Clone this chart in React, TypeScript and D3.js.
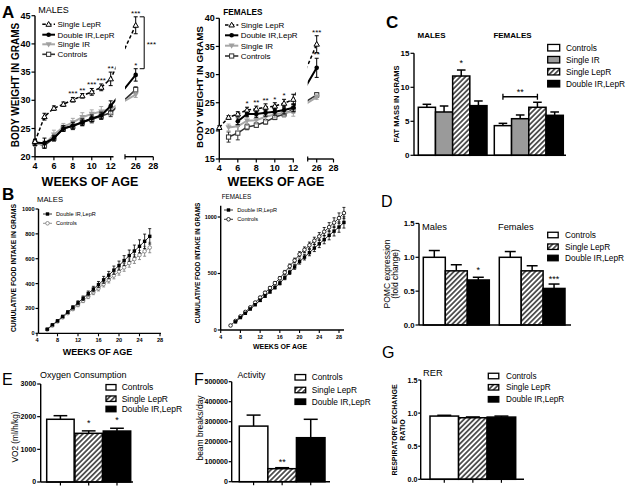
import React from "react";
import * as d3 from "d3";

const FONT = "'Liberation Sans', Arial, Helvetica, sans-serif";

// ---------- A: body weight ----------
const weeksMale = [4, 5, 6, 7, 8, 9, 10, 11, 12, 26];
const maleLepR = [22.7, 27.1, 28.6, 29.3, 30.1, 30.8, 31.5, 32.3, 33.8, 43.3];
const maleLepRErr = [0.4, 0.6, 0.4, 0.4, 0.4, 0.4, 0.6, 0.6, 1.2, 1.5];
const maleDouble = [22.5, 22.4, 23.3, 25.0, 25.5, 26.1, 26.8, 27.3, 29.0, 34.5];
const maleDoubleErr = [0.5, 0.9, 0.5, 0.5, 0.6, 0.6, 0.6, 0.6, 0.9, 1.1];
const maleIR = [22.3, 22.2, 23.9, 25.3, 26.1, 27.0, 27.6, 28.0, 28.5, 31.0];
const maleIRErr = [0.4, 0.6, 0.8, 0.6, 0.7, 0.8, 0.7, 0.9, 0.9, 0.5];
const maleCtrl = [22.4, 22.0, 23.3, 25.0, 25.4, 26.1, 26.6, 27.2, 27.8, 31.9];
const maleCtrlErr = [0.5, 0.5, 0.5, 0.5, 0.6, 0.6, 0.6, 0.6, 0.7, 0.5];
const maleStarWeeks = [8, 9, 10, 11, 12, 26];
const maleStarText = ["***", "**", "***", "***", "**", "***"];
const maleDoubleStarWeeks = [26];
const maleDoubleStarText = ["*"];

const femWeeksLepR = [4, 5, 6, 7, 8, 9, 10, 11, 12, 26];
const femLepR = [20.6, 22.4, 23.0, 23.7, 23.9, 24.2, 24.4, 24.9, 25.6, 35.4];
const femLepRErr = [0.3, 0.3, 0.4, 0.5, 0.5, 0.6, 0.6, 0.7, 0.9, 1.5];
const femWeeksDouble = [6, 7, 8, 9, 10, 11, 12, 26];
const femDouble = [21.7, 23.0, 23.0, 23.2, 23.4, 23.7, 24.1, 31.2];
const femDoubleErr = [0.6, 0.5, 0.6, 0.6, 0.6, 0.7, 0.7, 1.7];
const femWeeksOther = [5, 6, 7, 8, 9, 10, 11, 12, 26];
const femIR = [20.6, 20.8, 21.8, 21.9, 22.5, 22.9, 23.2, 23.4, 26.0];
const femIRErr = [0.6, 0.8, 0.8, 0.7, 0.7, 0.6, 0.7, 0.8, 0.4];
const femCtrl = [18.9, 19.6, 20.7, 21.0, 21.6, 22.4, 23.0, 23.8, 26.4];
const femCtrlErr = [0.9, 1.2, 0.5, 0.4, 0.4, 0.4, 0.5, 0.6, 0.4];
const femStarWeeks = [7, 8, 9, 10, 11, 26];
const femStarText = ["*", "**", "**", "*", "*", "***"];
const femDoubleStarWeeks = [26];
const femDoubleStarText = ["**"];

const weightYTicksMale = [20, 25, 30, 35, 40, 45];
const weightYTicksFem = [15, 20, 25, 30, 35, 40];
const weightXTicks1 = [4, 6, 8, 10, 12];
const weightXTicks2 = [26, 28];
const weightLegend = ["Single LepR", "Double IR,LepR", "Single IR", "Controls"];

// ---------- B: cumulative food intake ----------
const foodMaleWeeks = [6, 7, 8, 9, 10, 11, 12, 13, 14, 15, 16, 17, 18, 19, 20, 21, 22, 23, 24, 25, 26];
const foodMaleDouble = [33, 68, 100, 135, 170, 208, 245, 282, 320, 356, 392, 430, 468, 508, 545, 585, 625, 662, 700, 740, 780];
const foodMaleDoubleErr = [5, 6, 8, 10, 12, 14, 16, 18, 20, 22, 25, 28, 30, 33, 36, 40, 45, 48, 52, 58, 62];
const foodMaleCtrl = [30, 62, 95, 128, 162, 195, 228, 262, 296, 330, 362, 396, 430, 465, 497, 530, 565, 597, 630, 660, 690];
const foodMaleCtrlErr = [4, 5, 7, 9, 10, 12, 14, 15, 17, 19, 21, 23, 25, 27, 29, 31, 33, 35, 37, 40, 42];
const foodFemCtrlWeeks = [6, 7, 8, 9, 10, 11, 12, 13, 14, 15, 16, 17, 18, 19, 20, 21, 22, 23, 24, 25, 26, 27, 28, 29];
const foodFemCtrl = [40, 80, 120, 160, 200, 243, 287, 330, 372, 415, 458, 510, 565, 615, 670, 710, 750, 790, 828, 870, 910, 950, 990, 1035];
const foodFemCtrlErr = [5, 6, 7, 8, 9, 10, 11, 12, 13, 14, 15, 17, 19, 21, 23, 25, 28, 31, 34, 37, 40, 43, 46, 50];
const foodFemDoubleWeeks = [7, 8, 9, 10, 11, 12, 13, 14, 15, 16, 17, 18, 19, 20, 21, 22, 23, 24, 25, 26, 27, 28, 29];
const foodFemDouble = [72, 110, 148, 186, 224, 262, 300, 338, 376, 414, 462, 510, 558, 606, 645, 685, 725, 763, 800, 838, 875, 911, 952];
const foodFemDoubleErr = [5, 6, 7, 8, 9, 10, 11, 12, 13, 15, 17, 19, 21, 23, 25, 28, 31, 34, 37, 40, 43, 46, 50];
const foodXTicks = [4, 8, 12, 16, 20, 24, 28];
const foodYTicksMale = [0, 200, 400, 600, 800, 1000];
const foodYTicksFem = [0, 500, 1000];
const foodLegend = ["Double IR,LepR", "Controls"];

// ---------- C: fat mass ----------
const fatGroups = ["Controls", "Single IR", "Single LepR", "Double IR,LepR"];
const fatFills = ["white", "gray", "hatch", "black"];
const fatMales = [7.06, 6.37, 11.66, 7.3];
const fatMalesErr = [0.44, 0.88, 0.88, 0.69];
const fatFemales = [4.36, 5.38, 7.06, 5.88];
const fatFemalesErr = [0.34, 0.55, 0.74, 0.49];
const fatYTicks = [0, 5, 10, 15];

// ---------- D: POMC ----------
const pomcGroups = ["Controls", "Single LepR", "Double IR,LepR"];
const threeFills = ["white", "hatch", "black"];
const pomcMales = [1.0, 0.8, 0.665];
const pomcMalesErr = [0.1, 0.09, 0.04];
const pomcFemales = [1.0, 0.8, 0.54];
const pomcFemalesErr = [0.085, 0.075, 0.065];
const pomcYTicks = [0, 0.5, 1.0, 1.5];

// ---------- E: VO2 ----------
const vo2 = [1920, 1490, 1560];
const vo2Err = [110, 75, 85];
const vo2YTicks = [0, 1000, 2000, 3000];
// ---------- F: activity ----------
const activity = [278000, 65000, 220000];
const activityErr = [55000, 5000, 92000];
const activityYTicks = [0, 100000, 200000, 300000, 400000, 500000];
// ---------- G: RER ----------
const rer = [0.955, 0.93, 0.94];
const rerErr = [0.012, 0.012, 0.015];
const rerYTicks = [0, 0.5, 1.0, 1.5];

const FILL: Record<string, string> = { white: "#fff", gray: "#9a9a9a", hatch: "url(#hatch)", black: "#000" };

const KSTYLE: Record<string, any> = {
  lepr: { stroke: "#000", width: 1.5, dash: "3.5,2.2" },
  double: { stroke: "#000", width: 2 },
  ir: { stroke: "#a8a8a8", width: 2 },
  ctrl: { stroke: "#333", width: 1.6 },
};

function Marker({ kind, x, y }: any) {
  const sym = d3.symbol();
  if (kind === "lepr")
    return <path d={sym.type(d3.symbolTriangle).size(13)() as string} transform={`translate(${x},${y + 0.4})`} fill="#fff" stroke="#000" strokeWidth={1} />;
  if (kind === "double") return <circle cx={x} cy={y} r={2.3} fill="#000" />;
  if (kind === "ir")
    return <path d={sym.type(d3.symbolTriangle).size(16)() as string} transform={`translate(${x},${y - 0.4}) rotate(180)`} fill="#a0a0a0" />;
  return <rect x={x - 2.1} y={y - 2.1} width={4.2} height={4.2} fill="#fff" stroke="#333" strokeWidth={1} />;
}

function YAxis({ x, y, ticks, fmt, fs, tick = 3.5, gap = 1, top, bottom }: any) {
  const t0 = top !== undefined ? top : y(d3.max(ticks) as number);
  const b0 = bottom !== undefined ? bottom : y(d3.min(ticks) as number);
  return (
    <g>
      <line x1={x} x2={x} y1={t0} y2={b0} stroke="#000" strokeWidth={1.4} />
      {ticks.map((t: number) => (
        <g key={t}>
          <line x1={x - tick} x2={x} y1={y(t)} y2={y(t)} stroke="#000" strokeWidth={1.2} />
          <text x={x - tick - gap} y={y(t)} dy="0.35em" textAnchor="end" fontSize={fs} fontWeight="bold">
            {fmt ? fmt(t) : t}
          </text>
        </g>
      ))}
    </g>
  );
}

function WeightPanel({ id, series, x1, x2, y, seg1End, seg2Start, seg2End, yTicks, starsLepR, starsDouble, fsTick }: any) {
  const xm = (w: number) => (w <= 13 ? x1(w) : x2(w));
  const y0 = y.range()[0];
  const ax = x1.range()[0];
  const line = d3.line();
  return (
    <g>
      <clipPath id={id}>
        <rect x={0} y={0} width={seg1End + 2} height={200} />
        <rect x={seg2Start} y={0} width={seg2End - seg2Start + 10} height={200} />
      </clipPath>
      <YAxis x={ax} y={y} ticks={yTicks} fs={fsTick} />
      <line x1={ax} x2={seg1End} y1={y0} y2={y0} stroke="#000" strokeWidth={1.4} />
      {weightXTicks1.map((t) => (
        <g key={t}>
          <line x1={x1(t)} x2={x1(t)} y1={y0} y2={y0 + 3.5} stroke="#000" strokeWidth={1.2} />
          <text x={x1(t)} y={y0 + 12} textAnchor="middle" fontSize={fsTick} fontWeight="bold">{t}</text>
        </g>
      ))}
      <line x1={seg2Start} x2={seg2End} y1={y0} y2={y0} stroke="#000" strokeWidth={1.4} />
      <line x1={seg2Start} x2={seg2Start} y1={y0 - 2.5} y2={y0 + 2.5} stroke="#000" strokeWidth={1.2} />
      {weightXTicks2.map((t) => (
        <g key={t}>
          <line x1={x2(t)} x2={x2(t)} y1={y0} y2={y0 + 3.5} stroke="#000" strokeWidth={1.2} />
          <text x={x2(t)} y={y0 + 12} textAnchor="middle" fontSize={fsTick} fontWeight="bold">{t}</text>
        </g>
      ))}
      {series.map((s: any) => {
        const st = KSTYLE[s.kind];
        const pts = s.weeks.map((w: number, i: number) => [xm(w), y(s.vals[i])] as [number, number]);
        return (
          <g key={s.kind}>
            <path d={line(pts) as string} fill="none" stroke={st.stroke} strokeWidth={st.width} strokeDasharray={st.dash} clipPath={`url(#${id})`} />
            {s.weeks.map((w: number, i: number) => {
              const cx = xm(w);
              const a = y(s.vals[i] + s.errs[i]);
              const b = y(s.vals[i] - s.errs[i]);
              return (
                <g key={w} stroke={st.stroke} strokeWidth={1}>
                  <line x1={cx} x2={cx} y1={a} y2={b} />
                  <line x1={cx - 2} x2={cx + 2} y1={a} y2={a} />
                  <line x1={cx - 2} x2={cx + 2} y1={b} y2={b} />
                </g>
              );
            })}
            {s.weeks.map((w: number, i: number) => (
              <Marker key={"m" + w} kind={s.kind} x={xm(w)} y={y(s.vals[i])} />
            ))}
          </g>
        );
      })}
      {[starsLepR, starsDouble].map((st: any, k: number) =>
        st.weeks.map((w: number, i: number) => {
          const s = series.find((q: any) => q.kind === st.kind);
          const j = s.weeks.indexOf(w);
          return (
            <text key={k + "-" + w} x={xm(w)} y={y(s.vals[j] + s.errs[j]) - 1} textAnchor="middle" fontSize={8}>
              {st.text[i]}
            </text>
          );
        })
      )}
    </g>
  );
}

function WeightLegend({ x0, x1, tx, ys, fs }: any) {
  const kinds = ["lepr", "double", "ir", "ctrl"];
  return (
    <g>
      {kinds.map((k, i) => {
        const st = KSTYLE[k];
        return (
          <g key={k}>
            <line x1={x0} x2={x1} y1={ys[i]} y2={ys[i]} stroke={st.stroke} strokeWidth={st.width} strokeDasharray={st.dash} />
            <Marker kind={k} x={(x0 + x1) / 2} y={ys[i]} />
            <text x={tx} y={ys[i]} dy="0.35em" fontSize={fs}>{weightLegend[i]}</text>
          </g>
        );
      })}
    </g>
  );
}

function FoodPanel({ x, y, axisX, yTicks, yTop, xEnd, series, fs }: any) {
  const y0 = y(0);
  const line = d3.line();
  return (
    <g>
      <YAxis x={axisX} y={y} ticks={yTicks} fs={fs} tick={3} top={yTop} />
      <line x1={axisX} x2={xEnd} y1={y0} y2={y0} stroke="#000" strokeWidth={1.3} />
      {foodXTicks.map((t) => (
        <g key={t}>
          <line x1={x(t)} x2={x(t)} y1={y0} y2={y0 + 3} stroke="#000" strokeWidth={1.1} />
          <text x={x(t)} y={y0 + 8.8} textAnchor="middle" fontSize={fs} fontWeight="bold">{t}</text>
        </g>
      ))}
      {series.map((s: any, si: number) => {
        const pts = s.weeks.map((w: number, i: number) => [x(w), y(s.vals[i])] as [number, number]);
        return (
          <g key={si}>
            <path d={line(pts) as string} fill="none" stroke={s.color} strokeWidth={0.8} />
            {s.weeks.map((w: number, i: number) => {
              const cx = x(w);
              const a = y(s.vals[i] + s.errs[i]);
              const b = y(s.vals[i] - s.errs[i]);
              return (
                <g key={w} stroke={s.color} strokeWidth={0.8}>
                  <line x1={cx} x2={cx} y1={a} y2={b} />
                  <line x1={cx - 1.5} x2={cx + 1.5} y1={a} y2={a} />
                  <line x1={cx - 1.5} x2={cx + 1.5} y1={b} y2={b} />
                </g>
              );
            })}
            {s.weeks.map((w: number, i: number) =>
              s.filled ? (
                <rect key={"m" + w} x={x(w) - 1.7} y={y(s.vals[i]) - 1.7} width={3.4} height={3.4} fill="#000" />
              ) : (
                <circle key={"m" + w} cx={x(w)} cy={y(s.vals[i])} r={1.8} fill="#fff" stroke={s.color} strokeWidth={0.8} />
              )
            )}
          </g>
        );
      })}
    </g>
  );
}

function FoodLegend({ x0, x1, tx, ys, fs, ctrlColor }: any) {
  return (
    <g>
      <line x1={x0} x2={x1} y1={ys[0]} y2={ys[0]} stroke="#000" strokeWidth={0.8} />
      <rect x={(x0 + x1) / 2 - 1.7} y={ys[0] - 1.7} width={3.4} height={3.4} fill="#000" />
      <line x1={x0} x2={x1} y1={ys[1]} y2={ys[1]} stroke={ctrlColor} strokeWidth={0.8} />
      <circle cx={(x0 + x1) / 2} cy={ys[1]} r={1.8} fill="#fff" stroke={ctrlColor} strokeWidth={0.8} />
      {foodLegend.map((l, i) => (
        <text key={l} x={tx} y={ys[i]} dy="0.35em" fontSize={fs}>{l}</text>
      ))}
    </g>
  );
}

function Bars({ band, groups, vals, errs, fills, y, sw = 1.5 }: any) {
  const w = band.bandwidth();
  return (
    <g>
      {groups.map((g: string, i: number) => {
        const x = band(g);
        const top = y(vals[i]);
        const base = y(0);
        const et = y(vals[i] + errs[i]);
        const cx = x + w / 2;
        const cw = Math.min(w * 0.5, 14) / 2;
        return (
          <g key={g}>
            <line x1={cx} x2={cx} y1={top} y2={et} stroke="#000" strokeWidth={1.5} />
            <line x1={cx - cw} x2={cx + cw} y1={et} y2={et} stroke="#000" strokeWidth={1.5} />
            <rect x={x} y={top} width={w} height={base - top} fill={FILL[fills[i]]} stroke="#000" strokeWidth={sw} />
          </g>
        );
      })}
    </g>
  );
}

function BoxLegend({ x, ys, labels, fills, w = 11, h = 6, fs = 8.5, tx }: any) {
  return (
    <g>
      {labels.map((l: string, i: number) => (
        <g key={l}>
          <rect x={x} y={ys[i] - h / 2} width={w} height={h} fill={FILL[fills[i]]} stroke="#000" strokeWidth={1.3} />
          <text x={tx} y={ys[i]} dy="0.35em" fontSize={fs}>{l}</text>
        </g>
      ))}
    </g>
  );
}

function BottomTicks({ band, groups, y0 }: any) {
  return (
    <g>
      {groups.map((g: string) => {
        const cx = band(g) + band.bandwidth() / 2;
        return <line key={g} x1={cx} x2={cx} y1={y0} y2={y0 + 3.5} stroke="#000" strokeWidth={1.2} />;
      })}
    </g>
  );
}

export default function App() {
  // ---- A scales
  const yAM = d3.scaleLinear().domain([20, 45]).range([156.7, 15.7]);
  const xAM1 = d3.scaleLinear().domain([4, 12]).range([35, 110.7]);
  const xAM2 = d3.scaleLinear().domain([26, 28]).range([135.7, 153.3]);
  const yAF = d3.scaleLinear().domain([15, 40]).range([159, 18.3]);
  const xAF1 = d3.scaleLinear().domain([4, 12]).range([219.3, 293.3]);
  const xAF2 = d3.scaleLinear().domain([26, 28]).range([316.7, 333.5]);

  const maleSeries = [
    { kind: "ctrl", weeks: weeksMale, vals: maleCtrl, errs: maleCtrlErr },
    { kind: "ir", weeks: weeksMale, vals: maleIR, errs: maleIRErr },
    { kind: "double", weeks: weeksMale, vals: maleDouble, errs: maleDoubleErr },
    { kind: "lepr", weeks: weeksMale, vals: maleLepR, errs: maleLepRErr },
  ];
  const femSeries = [
    { kind: "ctrl", weeks: femWeeksOther, vals: femCtrl, errs: femCtrlErr },
    { kind: "ir", weeks: femWeeksOther, vals: femIR, errs: femIRErr },
    { kind: "double", weeks: femWeeksDouble, vals: femDouble, errs: femDoubleErr },
    { kind: "lepr", weeks: femWeeksLepR, vals: femLepR, errs: femLepRErr },
  ];

  // bracket (males wk26)
  const brTop = yAM(maleLepR[9] + maleLepRErr[9]);
  const brBot = yAM(maleDouble[9] + maleDoubleErr[9]);

  // ---- B scales
  const xBM = d3.scaleLinear().domain([4, 28]).range([37, 160]);
  const yBM = d3.scaleLinear().domain([0, 1000]).range([333.3, 209]);
  const xBF = d3.scaleLinear().domain([4, 28]).range([220.7, 339]);
  const yBF = d3.scaleLinear().domain([0, 1000]).range([330, 217]);

  // ---- C
  const yC = d3.scaleLinear().domain([0, 15]).range([155.3, 53.3]);
  const bCM = d3.scaleBand().domain(fatGroups).range([418.3, 487]);
  const bCF = d3.scaleBand().domain(fatGroups).range([494.3, 563.3]);
  const cStarX = (bCM("Single LepR") as number) + bCM.bandwidth() / 2;
  const cStarY = yC(fatMales[2] + fatMalesErr[2]) - 4;
  const brX1 = (bCF("Controls") as number) + bCF.bandwidth() / 2;
  const brX2 = (bCF("Single LepR") as number) + bCF.bandwidth() / 2;
  const brY = yC(fatFemales[2] + fatFemalesErr[2]) - 5.5;

  // ---- D
  const yD = d3.scaleLinear().domain([0, 1]).range([325, 257.3]);
  const bDM = d3.scaleBand().domain(pomcGroups).range([423.3, 489.3]);
  const bDF = d3.scaleBand().domain(pomcGroups).range([499.3, 565]);

  // ---- E
  const yE = d3.scaleLinear().domain([0, 3000]).range([482, 384]);
  const bE = d3.scaleBand().domain(pomcGroups).range([46.7, 130.7]).paddingInner(0.03);
  // ---- F
  const yF = d3.scaleLinear().domain([0, 500000]).range([481.7, 381.7]);
  const bF = d3.scaleBand().domain(pomcGroups).range([239.3, 325]);
  // ---- G
  const yG = d3.scaleLinear().domain([0, 1.5]).range([479.3, 380]);
  const bG = d3.scaleBand().domain(pomcGroups).range([430, 515.7]);

  const cx = (b: any, g: string) => (b(g) as number) + b.bandwidth() / 2;
  const f1 = d3.format(".1f");

  return (
    <svg width={628} height={488} style={{ position: "absolute", left: 0, top: 0, background: "#fff" }} fontFamily={FONT}>
      <defs>
        <pattern id="hatch" patternUnits="userSpaceOnUse" width={3.6} height={3.6} patternTransform="rotate(45)">
          <rect width={3.6} height={3.6} fill="#fff" />
          <line x1={1.8} y1={0} x2={1.8} y2={3.6} stroke="#000" strokeWidth={1.25} />
        </pattern>
      </defs>
      <rect width={628} height={488} fill="#fff" />

      {/* ===== A ===== */}
      <text x={2} y={17.5} fontSize={17} fontWeight="bold">A</text>
      <text x={38.3} y={13.3} fontSize={9}>MALES</text>
      <WeightPanel id="clipAM" series={maleSeries} x1={xAM1} x2={xAM2} y={yAM} seg1End={113.5} seg2Start={125} seg2End={153.3}
        yTicks={weightYTicksMale} fsTick={9}
        starsLepR={{ kind: "lepr", weeks: maleStarWeeks, text: maleStarText }}
        starsDouble={{ kind: "double", weeks: maleDoubleStarWeeks, text: maleDoubleStarText }} />
      <WeightLegend x0={42.3} x1={55} tx={57.5} ys={[24.3, 34.7, 44.3, 54.3]} fs={8} />
      <g stroke="#000" strokeWidth={1} fill="none">
        <path d={`M${xAM2(26) + 4},${brTop} H${xAM2(26) + 8.5} V${brBot} H${xAM2(26) + 4}`} />
      </g>
      <text x={xAM2(26) + 11} y={(brTop + brBot) / 2 + 4} fontSize={8}>***</text>
      <text transform="translate(18.5,85) rotate(-90)" textAnchor="middle" fontSize={10} fontWeight="bold">BODY WEIGHT IN GRAMS</text>
      <text x={90} y={186} textAnchor="middle" fontSize={12.5} fontWeight="bold">WEEKS OF AGE</text>

      <text x={223.3} y={15} fontSize={8.2} fontWeight="bold">FEMALES</text>
      <WeightPanel id="clipAF" series={femSeries} x1={xAF1} x2={xAF2} y={yAF} seg1End={293.8} seg2Start={307.7} seg2End={333.5}
        yTicks={weightYTicksFem} fsTick={9}
        starsLepR={{ kind: "lepr", weeks: femStarWeeks, text: femStarText }}
        starsDouble={{ kind: "double", weeks: femDoubleStarWeeks, text: femDoubleStarText }} />
      <WeightLegend x0={225} x1={238.3} tx={240.7} ys={[25, 35.3, 45.7, 56]} fs={8} />
      <text transform="translate(203,87) rotate(-90)" textAnchor="middle" fontSize={9.8} fontWeight="bold">BODY WEIGHT IN GRAMS</text>
      <text x={276} y={186} textAnchor="middle" fontSize={12.5} fontWeight="bold">WEEKS OF AGE</text>

      {/* ===== B ===== */}
      <text x={2} y={200} fontSize={17} fontWeight="bold">B</text>
      <text x={37} y={202} fontSize={7.7}>MALES</text>
      <FoodPanel x={xBM} y={yBM} axisX={38.5} yTicks={foodYTicksMale} yTop={yBM(1000)} xEnd={161}
        fs={5.6}
        series={[
          { weeks: foodMaleWeeks, vals: foodMaleCtrl, errs: foodMaleCtrlErr, color: "#777", filled: false },
          { weeks: foodMaleWeeks, vals: foodMaleDouble, errs: foodMaleDoubleErr, color: "#000", filled: true },
        ]} />
      <FoodLegend x0={43} x1={52} tx={56} ys={[214, 223.3]} fs={5.6} ctrlColor="#777" />
      <text transform="translate(16,268) rotate(-90)" textAnchor="middle" fontSize={6.8} fontWeight="bold">CUMULATIVE FOOD INTAKE IN GRAMS</text>
      <text x={97.5} y={355} textAnchor="middle" fontSize={9} fontWeight="bold">WEEKS OF AGE</text>

      <text x={221.7} y={199} fontSize={6.3}>FEMALES</text>
      <FoodPanel x={xBF} y={yBF} axisX={220.7} yTicks={foodYTicksFem} yTop={yBF(1100)} xEnd={344}
        fs={5.4}
        series={[
          { weeks: foodFemCtrlWeeks, vals: foodFemCtrl, errs: foodFemCtrlErr, color: "#000", filled: false },
          { weeks: foodFemDoubleWeeks, vals: foodFemDouble, errs: foodFemDoubleErr, color: "#000", filled: true },
        ]} />
      <FoodLegend x0={224} x1={233} tx={237.3} ys={[210, 219.3]} fs={5.6} ctrlColor="#000" />
      <text transform="translate(200,263) rotate(-90)" textAnchor="middle" fontSize={6.4} fontWeight="bold">CUMULATIVE FOOD INTAKE IN GRAMS</text>
      <text x={280} y={348.5} textAnchor="middle" fontSize={7} fontWeight="bold">WEEKS OF AGE</text>

      {/* ===== C ===== */}
      <text x={386} y={27.5} fontSize={17} fontWeight="bold">C</text>
      <text x={431.5} y={38.3} textAnchor="middle" fontSize={8} fontWeight="bold">MALES</text>
      <text x={512.5} y={38.3} textAnchor="middle" fontSize={8} fontWeight="bold">FEMALES</text>
      <Bars band={bCM} groups={fatGroups} vals={fatMales} errs={fatMalesErr} fills={fatFills} y={yC} />
      <Bars band={bCF} groups={fatGroups} vals={fatFemales} errs={fatFemalesErr} fills={fatFills} y={yC} />
      <YAxis x={414} y={yC} ticks={fatYTicks} fs={8} />
      <line x1={414} x2={566} y1={yC(0)} y2={yC(0)} stroke="#000" strokeWidth={1.4} />
      <text x={cStarX} y={cStarY} textAnchor="middle" fontSize={9}>*</text>
      <path d={`M${brX1},${brY - 3} V${brY + 3} M${brX1},${brY} H${brX2} M${brX2},${brY - 3} V${brY + 3}`} stroke="#000" strokeWidth={1.3} fill="none" />
      <text x={(brX1 + brX2) / 2} y={brY - 1.5} textAnchor="middle" fontSize={9}>**</text>
      <BoxLegend x={547.7} ys={[47.7, 59.7, 71.7, 83.7]} labels={fatGroups} fills={fatFills} w={12} h={6.5} fs={8.3} tx={566} />
      <text transform="translate(398.5,104) rotate(-90)" textAnchor="middle" fontSize={7.5} fontWeight="bold">FAT MASS IN GRAMS</text>

      {/* ===== D ===== */}
      <text x={381} y={207} fontSize={16}>D</text>
      <Bars band={bDM} groups={pomcGroups} vals={pomcMales} errs={pomcMalesErr} fills={threeFills} y={yD} />
      <Bars band={bDF} groups={pomcGroups} vals={pomcFemales} errs={pomcFemalesErr} fills={threeFills} y={yD} />
      <YAxis x={419} y={yD} ticks={pomcYTicks} fmt={f1} fs={7.8} />
      <line x1={419} x2={571} y1={yD(0)} y2={yD(0)} stroke="#000" strokeWidth={1.4} />
      <text x={422} y={229.5} fontSize={9.3}>Males</text>
      <text x={498} y={229.5} fontSize={9.3}>Females</text>
      <text x={cx(bDM, "Double IR,LepR")} y={yD(pomcMales[2] + pomcMalesErr[2]) - 4} textAnchor="middle" fontSize={9}>*</text>
      <text x={cx(bDF, "Double IR,LepR")} y={yD(pomcFemales[2] + pomcFemalesErr[2]) - 2.5} textAnchor="middle" fontSize={9}>***</text>
      <BoxLegend x={547.7} ys={[235, 246.7, 258]} labels={pomcGroups} fills={threeFills} w={10.5} h={5.5} fs={8.3} tx={565} />
      <text transform="translate(389.5,274) rotate(-90)" textAnchor="middle" fontSize={8.5}>POMC expression</text>
      <text transform="translate(397.5,274) rotate(-90)" textAnchor="middle" fontSize={8.5}>(fold change)</text>

      {/* ===== E ===== */}
      <text x={2} y={385} fontSize={16}>E</text>
      <text x={40} y={377.5} fontSize={9}>Oxygen Consumption</text>
      <Bars band={bE} groups={pomcGroups} vals={vo2} errs={vo2Err} fills={threeFills} y={yE} />
      <YAxis x={40.7} y={yE} ticks={vo2YTicks} fs={7} />
      <line x1={40.7} x2={133} y1={yE(0)} y2={yE(0)} stroke="#000" strokeWidth={1.4} />
      <BottomTicks band={bE} groups={pomcGroups} y0={yE(0)} />
      {[1, 2].map((i) => (
        <text key={i} x={cx(bE, pomcGroups[i])} y={yE(vo2[i] + vo2Err[i]) - 5} textAnchor="middle" fontSize={9}>*</text>
      ))}
      <BoxLegend x={106} ys={[387.3, 398.7, 409]} labels={pomcGroups} fills={threeFills} w={10} h={5.5} fs={8.5} tx={121.7} />
      <text transform="translate(17.5,437) rotate(-90)" textAnchor="middle" fontSize={8.3}>VO2 (ml/h/kg)</text>

      {/* ===== F ===== */}
      <text x={194} y={385} fontSize={16}>F</text>
      <text x={237.5} y={377.5} fontSize={8.8}>Activity</text>
      <Bars band={bF} groups={pomcGroups} vals={activity} errs={activityErr} fills={threeFills} y={yF} />
      <YAxis x={231.7} y={yF} ticks={activityYTicks} fs={7} tick={3} gap={0.8} />
      <line x1={231.7} x2={330} y1={yF(0)} y2={yF(0)} stroke="#000" strokeWidth={1.4} />
      <BottomTicks band={bF} groups={pomcGroups} y0={yF(0)} />
      <text x={cx(bF, "Single LepR")} y={yF(activity[1] + activityErr[1]) - 3} textAnchor="middle" fontSize={9}>**</text>
      <BoxLegend x={295} ys={[377.3, 390, 401.7]} labels={pomcGroups} fills={threeFills} w={10.7} h={5.5} fs={8.3} tx={311.7} />
      <text transform="translate(202.5,428) rotate(-90)" textAnchor="middle" fontSize={8.5}>beam breaks/day</text>

      {/* ===== G ===== */}
      <text x={382} y={358} fontSize={16}>G</text>
      <text x={423} y={376} fontSize={9.3}>RER</text>
      <Bars band={bG} groups={pomcGroups} vals={rer} errs={rerErr} fills={threeFills} y={yG} />
      <YAxis x={420.7} y={yG} ticks={rerYTicks} fmt={f1} fs={7.2} tick={2.5} gap={0.6} />
      <line x1={420.7} x2={524} y1={yG(0)} y2={yG(0)} stroke="#000" strokeWidth={1.4} />
      <BottomTicks band={bG} groups={pomcGroups} y0={yG(0)} />
      <BoxLegend x={488.3} ys={[376, 387.3, 399.3]} labels={pomcGroups} fills={threeFills} w={10.5} h={5.5} fs={8.2} tx={506} />
      <text transform="translate(397,430) rotate(-90)" textAnchor="middle" fontSize={7} fontWeight="bold">RESPIRATORY EXCHANGE</text>
      <text transform="translate(405,430) rotate(-90)" textAnchor="middle" fontSize={7} fontWeight="bold">RATIO</text>
    </svg>
  );
}
